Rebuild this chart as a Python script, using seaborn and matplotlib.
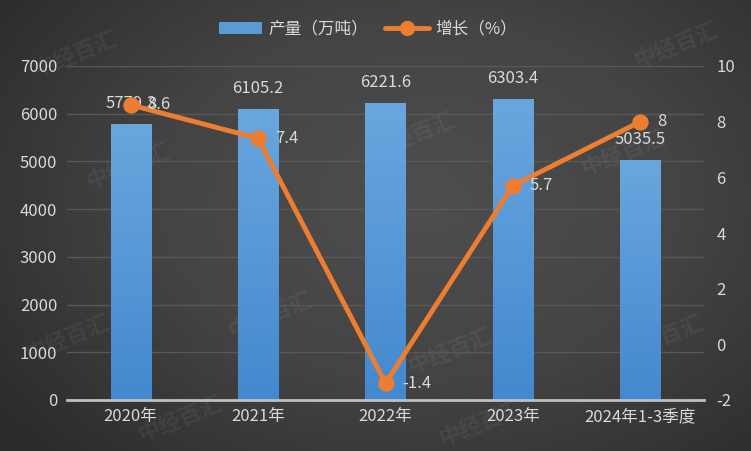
import numpy as np
import pandas as pd
import matplotlib
matplotlib.use('Agg')
import matplotlib.pyplot as plt
import seaborn as sns
from matplotlib.patches import Patch
from matplotlib.lines import Line2D
from matplotlib.colors import LinearSegmentedColormap

categories = ['2020年', '2021年', '2022年', '2023年', '2024年1-3季度']
output = [5779.3, 6105.2, 6221.6, 6303.4, 5035.5]
growth = [8.6, 7.4, -1.4, 5.7, 8]
output_labels = ['5779.3', '6105.2', '6221.6', '6303.4', '5035.5']
growth_labels = ['8.6', '7.4', '-1.4', '5.7', '8']
left_ticks = [0, 1000, 2000, 3000, 4000, 5000, 6000, 7000]
right_ticks = [-2, 0, 2, 4, 6, 8, 10]
legend_labels = ['产量（万吨）', '增长（%）']

sns.set_theme(style='dark')
plt.rcParams['font.family'] = ['Noto Sans CJK SC', 'DejaVu Sans']
plt.rcParams['axes.unicode_minus'] = False

TXT = '#d9d9d9'
ORANGE = '#ed7d31'
FS = 12

fig = plt.figure(figsize=(7.51, 4.51), dpi=100)
fig.patch.set_facecolor('#3a3a3a')

# background radial gradient
bg = fig.add_axes([0, 0, 1, 1])
bg.set_axis_off()
yy, xx = np.mgrid[0:451, 0:751]
r = np.sqrt(((xx - 420) / 520.0) ** 2 + ((yy - 200) / 360.0) ** 2)
r = np.clip(r, 0, 1)
bgcmap = LinearSegmentedColormap.from_list('bg', ['#4e4e4e', '#444444', '#2c2c2c'])
bg.imshow(r, cmap=bgcmap, vmin=0, vmax=1, aspect='auto', extent=[0, 1, 0, 1], origin='upper')
bg.set_xlim(0, 1)
bg.set_ylim(0, 1)

# faint watermarks
wm_pos = [(0.10, 0.88), (0.17, 0.63), (0.55, 0.70), (0.83, 0.66), (0.36, 0.30),
          (0.09, 0.25), (0.60, 0.22), (0.88, 0.25), (0.24, 0.07), (0.64, 0.06),
          (0.90, 0.90)]
for (wx, wy) in wm_pos:
    bg.text(wx, wy, '中经百汇', rotation=22, color='white', alpha=0.06,
            fontsize=16, fontweight='bold', ha='center', va='center')

ax = fig.add_axes([67 / 751, 51 / 451, 637 / 751, 334 / 451])
ax.set_facecolor('none')
df = pd.DataFrame({'cat': categories, 'val': output})
sns.barplot(data=df, x='cat', y='val', ax=ax, width=0.315, color='#5b9bd5',
            saturation=1, zorder=2)
ax.set_ylim(0, 7000)
ax.set_xlim(-0.5, 4.5)

# gradient fill for bars
barcmap = LinearSegmentedColormap.from_list('bar', ['#4389cf', '#6aa6de'])
grad = np.linspace(0, 1, 256).reshape(-1, 1)
for p in list(ax.patches):
    x0, y0 = p.get_x(), p.get_y()
    w, h = p.get_width(), p.get_height()
    im = ax.imshow(grad, cmap=barcmap, aspect='auto', origin='lower',
                   extent=[x0, x0 + w, y0, y0 + h], zorder=2)
    im.set_clip_path(p)
    p.set_facecolor('none')
    p.set_edgecolor('none')
ax.set_xlim(-0.5, 4.5)
ax.set_ylim(0, 7000)

for i, (v, lab) in enumerate(zip(output, output_labels)):
    ax.annotate(lab, (i, v), xytext=(0, 12), textcoords='offset pixels',
                ha='center', va='bottom', color=TXT, fontsize=FS, zorder=5)

ax.set_yticks(left_ticks)
ax.set_yticklabels([str(t) for t in left_ticks])
ax.yaxis.grid(True, color='#585858', linewidth=1)
ax.xaxis.grid(False)
ax.set_axisbelow(True)
for s in ['top', 'right', 'left']:
    ax.spines[s].set_visible(False)
ax.spines['bottom'].set_color('#bfbfbf')
ax.spines['bottom'].set_linewidth(2)
ax.tick_params(axis='y', colors=TXT, labelsize=FS, length=0, pad=7)
ax.tick_params(axis='x', colors=TXT, labelsize=FS, length=0, pad=6)
ax.set_xlabel('')
ax.set_ylabel('')

ax2 = ax.twinx()
sns.lineplot(x=np.arange(len(categories)), y=growth, ax=ax2, color=ORANGE,
             linewidth=3.5, marker='o', markersize=11, markeredgecolor=ORANGE,
             zorder=4)
ax2.set_ylim(-2, 10)
ax2.set_yticks(right_ticks)
ax2.set_yticklabels([str(t) for t in right_ticks])
ax2.tick_params(axis='y', colors=TXT, labelsize=FS, length=0, pad=9)
ax2.grid(False)
for s in ax2.spines.values():
    s.set_visible(False)
ax2.set_ylabel('')
for i, (g, lab) in enumerate(zip(growth, growth_labels)):
    ax2.annotate(lab, (i, g), xytext=(17, 0), textcoords='offset pixels',
                 ha='left', va='center', color=TXT, fontsize=FS, zorder=6)

handles = [Patch(facecolor='#5b9bd5', edgecolor='none'),
           Line2D([0], [0], color=ORANGE, linewidth=3.5, marker='o', markersize=10)]
leg = fig.legend(handles, legend_labels, loc='center', bbox_to_anchor=(0.49, 0.935),
                 ncol=2, frameon=False, fontsize=12, handlelength=2.6,
                 columnspacing=1.0, handletextpad=0.4)
for t in leg.get_texts():
    t.set_color(TXT)

fig.savefig('out.png', dpi=100, facecolor=fig.get_facecolor())
